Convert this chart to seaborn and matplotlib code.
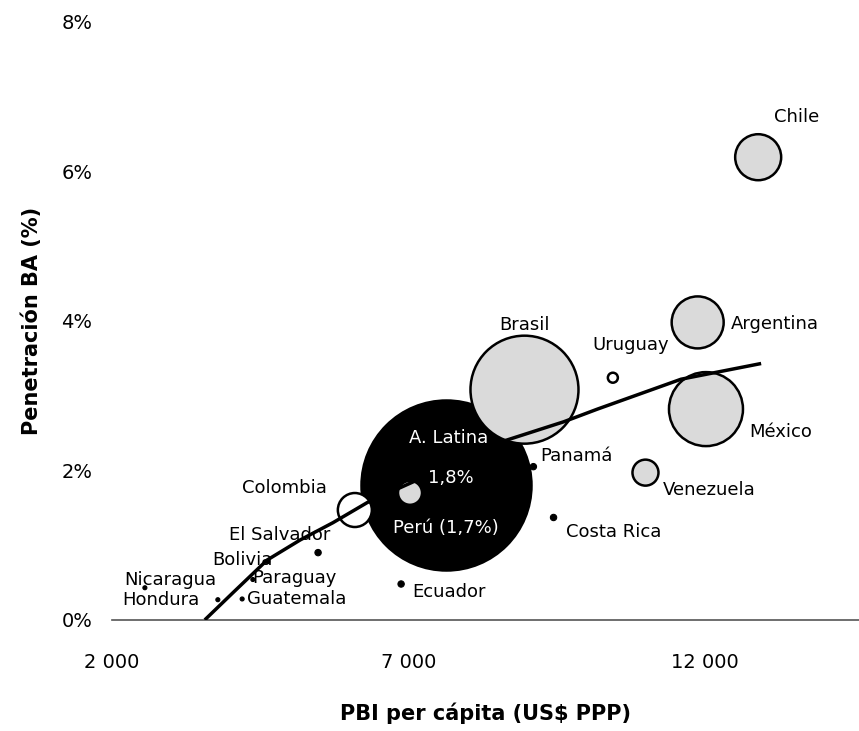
import pandas as pd
import matplotlib.pyplot as plt
import seaborn as sns

# datos
paises = [
    "A. Latina", "Brasil", "México", "Argentina", "Chile", "Colombia",
    "Venezuela", "Perú", "Uruguay", "Panamá", "Costa Rica", "Ecuador",
    "El Salvador", "Bolivia", "Nicaragua", "Paraguay", "Hondura", "Guatemala"
]
pbi = [
    7640, 8960, 12020, 11880, 12900, 6100,
    11000, 7030, 10450, 9110, 9450, 6880,
    5480, 4630, 2560, 4380, 3790, 4200
]
penetracion = [
    1.80, 3.08, 2.82, 3.98, 6.19, 1.47,
    1.97, 1.70, 3.24, 2.05, 1.37, 0.48,
    0.90, 0.78, 0.43, 0.54, 0.27, 0.28
]
mercado = [
    7225, 2916, 1369, 676, 529, 289,
    169, 144, 25, 10, 10, 10,
    10, 4, 4, 4, 4, 4
]
tipo = [
    "region", "gris", "gris", "gris", "gris", "hueco",
    "gris", "gris", "hueco", "punto", "punto", "punto",
    "punto", "punto", "punto", "punto", "punto", "punto"
]

# curva de tendencia
tend_x = [3570, 4040, 4620, 5180, 5730, 6310, 8600, 9620, 10190, 11600, 12950]
tend_y = [0.00, 0.36, 0.80, 1.07, 1.30, 1.57, 2.39, 2.65, 2.82, 3.22, 3.43]

x_ticks = [2000, 7000, 12000]
x_tick_labels = ["2 000", "7 000", "12 000"]
y_ticks = [0, 2, 4, 6, 8]
y_tick_labels = ["0%", "2%", "4%", "6%", "8%"]

df = pd.DataFrame({
    "pais": paises,
    "pbi": pbi,
    "pen": penetracion,
    "mercado": mercado,
    "tipo": tipo,
})

colores = {
    "region": "black",
    "gris": "#dadada",
    "hueco": "white",
    "punto": "black",
}

# (dx, dy) en píxeles respecto al centro, alineación, color
etiquetas = {
    "Chile": (38, 40, "center", "black"),
    "Argentina": (33, -2, "left", "black"),
    "México": (43, -23, "left", "black"),
    "Brasil": (0, 65, "center", "black"),
    "Uruguay": (18, 33, "center", "black"),
    "Colombia": (-70, 22, "center", "black"),
    "Venezuela": (17, -17, "left", "black"),
    "Panamá": (7, 11, "left", "black"),
    "Costa Rica": (12, -15, "left", "black"),
    "Ecuador": (11, -8, "left", "black"),
    "El Salvador": (-38, 18, "center", "black"),
    "Bolivia": (5, 2, "right", "black"),
    "Nicaragua": (25, 8, "center", "black"),
    "Paraguay": (-1, 2, "left", "black"),
    "Hondura": (-18, 0, "right", "black"),
    "Guatemala": (5, 0, "left", "black"),
    "A. Latina": (2, 47, "center", "white"),
    "Perú": (36, -35, "center", "white"),
}

sns.set_theme(style="white")
plt.rcParams["font.family"] = ["DejaVu Sans"]
plt.rcParams["text.color"] = "black"
plt.rcParams["axes.labelcolor"] = "black"
plt.rcParams["xtick.color"] = "black"
plt.rcParams["ytick.color"] = "black"

fig = plt.figure(figsize=(8.59, 7.31), dpi=100)
ax = fig.add_axes([0.130, 0.152, 0.870, 0.818])

smax = 2.0736 * max(mercado)

for t in ["region", "gris", "hueco", "punto"]:
    sub = df[df["tipo"] == t]
    sns.scatterplot(
        data=sub,
        x="pbi",
        y="pen",
        size="mercado",
        sizes=(0, smax),
        size_norm=(0, max(mercado)),
        color=colores[t],
        edgecolor="black",
        linewidth=1.8 if t != "punto" else 0.8,
        legend=False,
        ax=ax,
    )

for coll in ax.collections:
    coll.set_zorder(2)

linea, = ax.plot(
    tend_x,
    tend_y,
    color="black",
    linewidth=2.5,
    solid_capstyle="butt",
    solid_joinstyle="round",
)
linea.set_zorder(10)

for _, fila in df.iterrows():
    dx, dy, ha, col = etiquetas[fila["pais"]]
    texto = fila["pais"]
    if texto == "Perú":
        texto = "Perú (1,7%)"
    ax.annotate(
        texto,
        xy=(fila["pbi"], fila["pen"]),
        xytext=(dx, dy),
        textcoords="offset pixels",
        ha=ha,
        va="center",
        fontsize=13,
        color=col,
        zorder=11,
    )
    if fila["pais"] == "A. Latina":
        ax.annotate(
            "1,8%",
            xy=(fila["pbi"], fila["pen"]),
            xytext=(5, 7),
            textcoords="offset pixels",
            ha="center",
            va="center",
            fontsize=13,
            color="white",
            zorder=11,
        )

ax.set_xlim(2000, 14600)
ax.set_ylim(0, 8)

ax.set_xticks(x_ticks)
ax.set_xticklabels(x_tick_labels, fontsize=14)
ax.set_yticks(y_ticks)
ax.set_yticklabels(y_tick_labels, fontsize=14)

ax.tick_params(axis="x", length=0, pad=24)
ax.tick_params(axis="y", length=0, pad=14)

for lado in ["top", "right", "left"]:
    ax.spines[lado].set_visible(False)

ax.spines["bottom"].set_color("#555555")
ax.spines["bottom"].set_linewidth(1.2)

ax.set_xlabel(
    "PBI per cápita (US$ PPP)",
    fontsize=15,
    fontweight="bold",
    labelpad=22
)

ax.set_ylabel(
    "Penetración BA (%)",
    fontsize=15,
    fontweight="bold",
    labelpad=14
)

ax.grid(False)

fig.savefig("out.png", dpi=100)
